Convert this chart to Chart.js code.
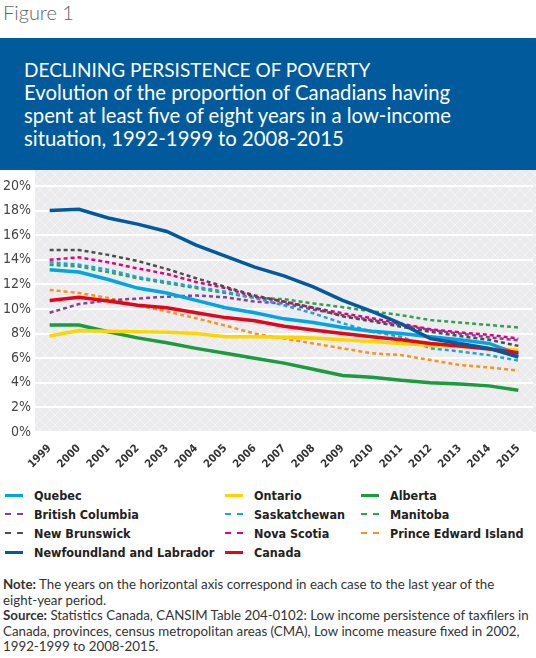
<!DOCTYPE html>
<html>
<head>
<meta charset="utf-8">
<script src="https://cdn.jsdelivr.net/npm/chart.js@4/dist/chart.umd.min.js"></script>
<style>
  html, body { margin: 0; padding: 0; background: #fff; }
  body { width: 536px; height: 658px; position: relative; overflow: hidden; font-family: Lato, "Open Sans", sans-serif; }
  .fig { position: absolute; left: 3px; top: 0px; font-size: 20px; color: #666; font-weight: 300; }
  .banner { position: absolute; left: 0; top: 38px; width: 536px; height: 132px; background: #005a9b; color: #fff; }
  .banner div { position: absolute; left: 24px; top: 20px; font-size: 20.3px; line-height: 23px; }
  .banner .caps { font-size: 19px; }
  .chart-wrap { position: absolute; left: 0; top: 170px; width: 536px; height: 310px; }
  .legend { position: absolute; top: 486px; left: 0; width: 536px; font-family: "DejaVu Sans Condensed", "DejaVu Sans", sans-serif; font-weight: bold; font-size: 12.5px; color: #222; }
  .legend .item { position: absolute; height: 19px; line-height: 19px; white-space: nowrap; }
  .legend .swatch { position: absolute; left: 0; top: 8px; width: 18px; height: 0; }
  .legend .label { position: absolute; left: 29px; top: 0; }
  .notes { position: absolute; left: 3px; top: 577px; width: 533px; font-size: 13.3px; line-height: 15.5px; color: #333; white-space: nowrap; }
</style>
</head>
<body>
<div class="fig">Figure 1</div>
<div class="banner"><div><span class="caps">DECLINING PERSISTENCE OF POVERTY</span><br>Evolution of the proportion of Canadians having<br>spent at least five of eight years in a low-income<br>situation, 1992-1999 to 2008-2015</div></div>
<div class="chart-wrap"><canvas id="chart" width="536" height="310"></canvas></div>
<div class="legend" id="legend"></div>
<div class="notes"><b>Note:</b> The years on the horizontal axis correspond in each case to the last year of the<br>eight-year period.<br><b>Source:</b> Statistics Canada, CANSIM Table 204-0102: Low income persistence of taxfilers in<br>Canada, provinces, census metropolitan areas (CMA), Low income measure fixed in 2002,<br>1992-1999 to 2008-2015.</div>
<script>
const years = ["1999", "2000", "2001", "2002", "2003", "2004", "2005", "2006", "2007", "2008", "2009", "2010", "2011", "2012", "2013", "2014", "2015"];
const yTicks = [0, 2, 4, 6, 8, 10, 12, 14, 16, 18, 20];

const newfoundland = [18.0, 18.1, 17.4, 16.9, 16.3, 15.2, 14.3, 13.4, 12.7, 11.8, 10.7, 9.8, 8.8, 7.6, 7.2, 6.8, 6.1];
const quebec = [13.2, 13.0, 12.4, 11.7, 11.3, 10.7, 10.1, 9.7, 9.2, 8.9, 8.5, 8.2, 8.0, 7.75, 7.5, 7.2, 6.3];
const canada = [10.7, 10.95, 10.65, 10.3, 10.1, 9.7, 9.3, 9.05, 8.6, 8.3, 8.0, 7.75, 7.5, 7.2, 7.0, 6.75, 6.45];
const ontario = [7.8, 8.25, 8.2, 8.15, 8.1, 8.0, 7.75, 7.75, 7.7, 7.65, 7.5, 7.35, 7.2, 7.05, 6.95, 6.8, 6.65];
const alberta = [8.7, 8.7, 8.15, 7.65, 7.25, 6.8, 6.4, 6.0, 5.6, 5.1, 4.6, 4.45, 4.2, 4.0, 3.9, 3.75, 3.4];
const newBrunswick = [14.8, 14.8, 14.4, 13.9, 13.25, 12.5, 11.8, 11.1, 10.6, 10.1, 9.4, 9.0, 8.55, 8.15, 7.8, 7.5, 7.0];
const novaScotia = [14.0, 14.2, 13.8, 13.3, 12.85, 12.2, 11.7, 11.0, 10.6, 10.1, 9.65, 9.25, 8.8, 8.35, 8.1, 7.9, 7.6];
const saskatchewan = [13.8, 13.6, 13.2, 12.6, 12.2, 11.8, 11.4, 10.9, 10.3, 9.65, 8.85, 8.15, 7.75, 6.8, 6.55, 6.25, 5.8];
const manitoba = [13.6, 13.45, 13.0, 12.5, 12.1, 11.7, 11.3, 10.9, 10.8, 10.45, 10.15, 9.8, 9.5, 9.1, 8.9, 8.7, 8.5];
const britishColumbia = [9.7, 10.4, 10.7, 10.85, 11.0, 11.1, 10.95, 10.6, 10.45, 9.95, 9.5, 9.1, 8.7, 8.3, 8.0, 7.7, 7.45];
const pei = [11.55, 11.3, 10.9, 10.3, 9.8, 9.25, 8.65, 8.0, 7.6, 7.2, 6.8, 6.4, 6.25, 5.85, 5.45, 5.25, 5.0];

// legend layout: [label, data, color, dashed, column, row]
const series = [
  ["Newfoundland and Labrador", newfoundland, "#005a9b", false, 0, 3],
  ["Canada", canada, "#e3061b", false, 1, 3],
  ["Quebec", quebec, "#00a6e2", false, 0, 0],
  ["Ontario", ontario, "#ffd500", false, 1, 0],
  ["Alberta", alberta, "#1a9b3e", false, 2, 0],
  ["New Brunswick", newBrunswick, "#4d4d4f", true, 0, 2],
  ["Nova Scotia", novaScotia, "#e5007d", true, 1, 2],
  ["Saskatchewan", saskatchewan, "#1aa5e0", true, 1, 1],
  ["Manitoba", manitoba, "#2da44a", true, 2, 1],
  ["British Columbia", britishColumbia, "#8a3f97", true, 0, 1],
  ["Prince Edward Island", pei, "#f7941d", true, 2, 2],
];

const colX = [5, 225, 361];
const rowY = [0, 19, 38, 57];

const legend = document.getElementById("legend");
series.forEach(([label, , color, dashed, col, row]) => {
  const item = document.createElement("div");
  item.className = "item";
  item.style.left = colX[col] + "px";
  item.style.top = rowY[row] + "px";
  const border = dashed ? `2px dashed ${color}` : `3px solid ${color}`;
  item.innerHTML = `<span class="swatch" style="border-top:${border}"></span><span class="label">${label}</span>`;
  legend.appendChild(item);
});

function makePattern(ctx) {
  const c = document.createElement("canvas");
  c.width = 10; c.height = 10;
  const p = c.getContext("2d");
  p.fillStyle = "#ebebed";
  p.fillRect(0, 0, 10, 10);
  p.strokeStyle = "#f4f4f5";
  p.lineWidth = 1;
  p.beginPath();
  p.moveTo(0, 0); p.lineTo(10, 10);
  p.moveTo(10, 0); p.lineTo(0, 10);
  p.stroke();
  return ctx.createPattern(c, "repeat");
}

const bgPlugin = {
  id: "plotBg",
  beforeDraw(chart) {
    const { ctx, chartArea } = chart;
    ctx.save();
    ctx.fillStyle = makePattern(ctx);
    ctx.fillRect(35, chartArea.top - 16, 501, chartArea.bottom - chartArea.top + 16);
    ctx.restore();
  },
};

new Chart(document.getElementById("chart"), {
  type: "line",
  data: {
    labels: years,
    datasets: series.map(([label, data, color, dashed]) => ({
      label,
      data,
      borderColor: color,
      backgroundColor: color,
      borderWidth: dashed ? 2.5 : 3.5,
      borderDash: dashed ? [4, 3] : [],
      pointRadius: 0,
      tension: 0,
      fill: false,
    })),
  },
  plugins: [bgPlugin],
  options: {
    responsive: false,
    animation: false,
    layout: { padding: { top: 16, right: 3, left: 0, bottom: 0 } },
    plugins: { legend: { display: false }, tooltip: { enabled: false } },
    scales: {
      x: {
        offset: true,
        grid: { display: false },
        border: { display: false },
        ticks: {
          minRotation: 45,
          maxRotation: 45,
          autoSkip: false,
          color: "#333",
          padding: 2,
          font: { family: "DejaVu Sans Condensed", weight: "bold", size: 11 },
        },
        afterFit(scale) { scale.height = 48; },
      },
      y: {
        min: 0,
        max: 20,
        afterBuildTicks(scale) { scale.ticks = yTicks.map((v) => ({ value: v })); },
        grid: { color: "#ffffff", lineWidth: 2, drawTicks: false },
        border: { display: false },
        ticks: {
          color: "#444",
          padding: 4,
          font: { family: "DejaVu Sans Condensed", size: 14 },
          callback: (v) => v + "%",
        },
        afterFit(scale) { scale.width = 35; },
      },
    },
  },
});
</script>
</body>
</html>
